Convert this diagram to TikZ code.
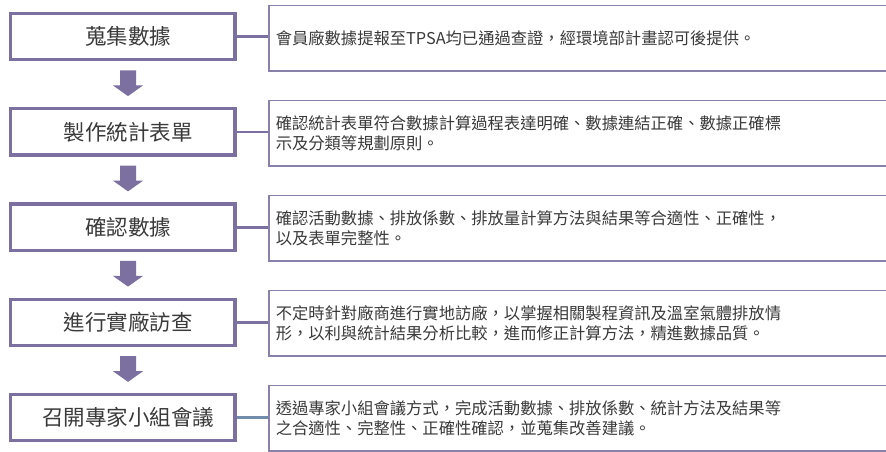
\documentclass[tikz,border=0pt]{standalone}
\usepackage{fontspec}
\newfontfamily\cjk{Noto Sans CJK TC}
\usetikzlibrary{calc}
\definecolor{boxpurple}{RGB}{124,112,160}
\definecolor{thinpurple}{RGB}{138,128,172}
\definecolor{linkblue}{RGB}{112,142,172}
\definecolor{txt}{RGB}{58,58,58}
\tikzset{
  stepbox/.style={draw=boxpurple, line width=3.3pt, fill=white, inner sep=0pt,
    minimum width=224.5pt, minimum height=46.3pt, text=txt,
    font=\cjk\fontsize{21.5}{24}\selectfont},
  notebox/.style={draw=thinpurple, line width=1.5pt, fill=white, anchor=west,
    inner xsep=7pt, inner ysep=0pt, text width=640pt, align=left,
    minimum height=65.3pt, text=txt,
    font=\cjk\fontsize{16.3}{20}\selectfont},
  link/.style={draw=boxpurple, line width=2.7pt},
  arr/.style={fill=boxpurple}
}
\begin{document}
\begin{tikzpicture}[x=1pt,y=-1pt]
\useasboundingbox (0,0) rectangle (886,452);
\fill[white] (0,0) rectangle (886,452);
\begin{scope}
\clip (0,0) rectangle (886,452);
\node[stepbox] (b1) at (122.75,36.65) {\hspace*{10.5pt}蒐集數據};
\node[stepbox] (b2) at (122.75,131.9) {\hspace*{10.5pt}製作統計表單};
\node[stepbox] (b3) at (122.75,227.15) {\hspace*{10.5pt}確認數據};
\node[stepbox] (b4) at (122.75,322.4) {\hspace*{10.5pt}進行實廠訪查};
\node[stepbox] (b5) at (122.75,417.65) {\hspace*{10.5pt}召開專家小組會議};

\node[notebox] (r1) at (268,38.35) {會員廠數據提報至TPSA均已通過查證，經環境部計畫認可後提供。};
\node[notebox] (r2) at (268,133.35) {確認統計表單符合數據計算過程表達明確、數據連結正確、數據正確標\\示及分類等規劃原則。};
\node[notebox] (r3) at (268,228.35) {確認活動數據、排放係數、排放量計算方法與結果等合適性、正確性，\\以及表單完整性。};
\node[notebox] (r4) at (268,323.35) {不定時針對廠商進行實地訪廠，以掌握相關製程資訊及溫室氣體排放情\\形，以利與統計結果分析比較，進而修正計算方法，精進數據品質。};
\node[notebox] (r5) at (268,418.35) {透過專家小組會議方式，完成活動數據、排放係數、統計方法及結果等\\之合適性、完整性、正確性確認，並蒐集改善建議。};

\foreach \i in {1,2,3,4}{
  \draw[link] (b\i.east) -- (b\i.east -| r\i.west);
}
\draw[link, draw=linkblue] (b5.east) -- (b5.east -| r5.west);

\foreach \a/\b in {b1/b2,b2/b3,b3/b4,b4/b5}{
  \path (\a.south) ++(5.25,9) coordinate (t);
  \path (\b.north) ++(5.25,-11) coordinate (p);
  \fill[arr] ($(t)+(-8,0)$) -- ($(t)+(8,0)$) -- ($(t)+(8,15)$) -- ($(t)+(15,15)$)
    -- (p) -- ($(t)+(-15,15)$) -- ($(t)+(-8,15)$) -- cycle;
}
\end{scope}
\end{tikzpicture}
\end{document}
